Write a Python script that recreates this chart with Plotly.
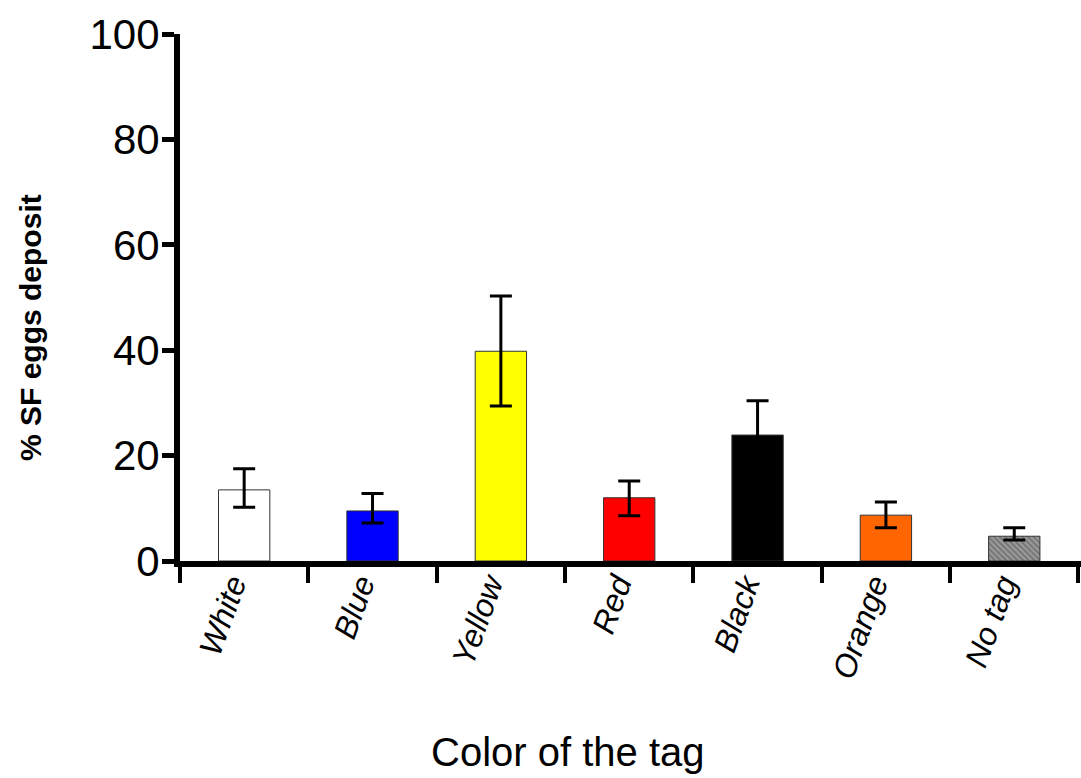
import plotly.graph_objects as go

categories = ["White", "Blue", "Yellow", "Red", "Black", "Orange", "No tag"]
values = [13.5, 9.5, 39.8, 12.0, 23.9, 8.7, 4.7]
err_plus = [4.0, 3.3, 10.5, 3.2, 6.5, 2.5, 1.6]
err_minus = [3.3, 2.3, 10.4, 3.4, 6.5, 2.4, 0.7]
bar_colors = ["#ffffff", "#0000ff", "#ffff00", "#ff0000", "#000000", "#ff6600", "#9a9a9a"]
y_ticks = [0, 20, 40, 60, 80, 100]

patterns = [""] * 6 + ["\\"]

fig = go.Figure()
fig.add_trace(go.Bar(
    x=categories,
    y=values,
    width=0.4,
    marker=dict(
        color=bar_colors,
        line=dict(color="#333333", width=1),
        pattern=dict(shape=patterns, fgcolor="#222222", bgcolor="#bbbbbb", size=4, solidity=0.4),
    ),
    error_y=dict(type="data", array=err_plus, arrayminus=err_minus,
                 color="black", thickness=3, width=11),
))

fig.update_layout(
    width=1081, height=778,
    margin=dict(l=180, r=0, t=34, b=217),
    plot_bgcolor="white", paper_bgcolor="white",
    showlegend=False,
    font=dict(family="Liberation Sans, Arial, sans-serif", color="black"),
)
fig.update_xaxes(
    range=[-0.5, 6.52],
    showline=True, linecolor="black", linewidth=6,
    ticks="outside", tickson="boundaries", ticklen=16, tickwidth=4, tickcolor="black",
    tickangle=-70,
    tickfont=dict(size=32, style="italic"),
    ticklabelstandoff=-14, ticklabelshift=-12,
    showgrid=False, zeroline=False,
)
fig.update_yaxes(
    range=[0, 100],
    tickvals=y_ticks,
    showline=True, linecolor="black", linewidth=6,
    ticks="outside", ticklen=12, tickwidth=5, tickcolor="black",
    tickfont=dict(size=42),
    ticklabelstandoff=-6,
    showgrid=False, zeroline=False,
)

# axis titles placed as annotations
fig.add_annotation(
    text="Color of the tag", xref="paper", yref="paper",
    x=(568 - 180) / 901, y=(561 - 752) / 527,
    xanchor="center", yanchor="middle", showarrow=False,
    font=dict(size=40),
)
fig.add_annotation(
    text="<b>% SF eggs deposit</b>", xref="paper", yref="paper",
    x=(30 - 180) / 901, y=(561 - 328) / 527,
    xanchor="center", yanchor="middle", showarrow=False, textangle=-90,
    font=dict(size=30),
)

fig.write_html("out.html")
